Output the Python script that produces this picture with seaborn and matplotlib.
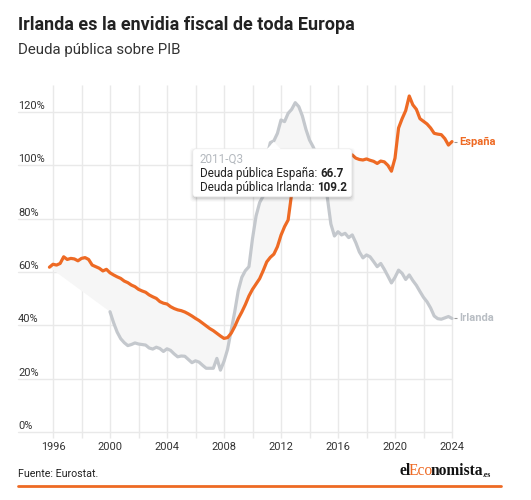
import numpy as np
import pandas as pd
import matplotlib
matplotlib.use("Agg")
import matplotlib.pyplot as plt
import matplotlib.transforms as mtransforms
from matplotlib.patches import FancyBboxPatch, Polygon
from matplotlib.lines import Line2D
from matplotlib.text import Annotation
import seaborn as sns

# ---------------- data (quarterly, % of GDP) ----------------
spain_start = "1995Q4"
spain = [61.8,
         62.9, 62.6, 63.2, 65.7,
         64.7, 65.1, 64.9, 64.2,
         65.1, 65.4, 64.7, 62.6,
         62.0, 61.4, 60.4, 61.0,
         59.7, 58.9, 58.2, 57.6,
         56.6, 56.0, 55.1, 54.5,
         53.5, 52.9, 52.4, 51.4,
         50.7, 50.1, 48.9, 48.3,
         48.0, 47.0, 46.3, 45.8,
         45.5, 45.0, 44.3, 43.5,
         42.6, 41.8, 40.8, 39.8,
         38.8, 38.0, 37.0, 36.0,
         35.1, 35.4, 37.0, 39.5,
         42.5, 45.0, 47.8, 51.0,
         53.5, 55.5, 57.5, 60.5,
         63.8, 65.5, 66.7, 69.5,
         73.8, 77.0, 79.5, 89.5,
         93.0, 94.5, 95.5, 100.0,
         100.8, 102.5, 102.5, 104.8,
         104.5, 104.0, 103.5, 103.3,
         103.5, 103.8, 103.2, 103.6,
         103.9, 102.7, 102.2, 102.0,
         102.4, 101.9, 101.5, 100.7,
         101.6, 101.3, 100.0, 97.8,
         102.7, 114.0, 117.5, 120.5,
         126.0, 122.7, 121.0, 117.5,
         116.5, 115.5, 114.0, 112.0,
         111.7, 111.5, 110.0, 107.6,
         108.9]

ireland_start = "2000Q1"
ireland = [45.1, 41.0, 37.5, 35.0,
           33.5, 32.4, 32.8, 33.4,
           33.0, 32.8, 32.6, 31.5,
           31.1, 31.8, 31.3, 30.2,
           31.2, 30.6, 29.3, 28.2,
           28.5, 28.4, 27.2, 26.0,
           26.7, 26.2, 25.0, 23.9,
           23.9, 23.9, 27.6, 23.2,
           26.5, 31.0, 38.0, 45.0,
           53.0, 58.0, 60.5, 62.0,
           72.5, 81.0, 86.0, 88.5,
           103.0, 108.5, 109.2, 112.0,
           117.0, 116.4, 119.5, 121.0,
           123.5, 122.0, 118.5, 113.5,
           109.5, 107.0, 104.0, 100.0,
           96.0, 88.0, 78.0, 73.5,
           75.1, 73.9, 74.5, 72.9,
           73.9, 71.0, 67.5, 65.3,
           66.4, 65.7, 63.9, 62.0,
           63.2, 61.0, 58.5, 55.9,
           58.0, 60.7, 59.5, 57.2,
           58.9, 56.8, 55.0, 52.7,
           50.5, 48.8, 46.5, 43.5,
           42.5, 42.3, 42.8, 43.3,
           42.6]

series_names = ["España", "Irlanda"]
x_tick_labels = [1996, 2000, 2004, 2008, 2012, 2016, 2020, 2024]
x_grid_years = list(range(1996, 2025, 2))
y_ticks = [0, 20, 40, 60, 80, 100, 120]
tooltip_period = "2011Q3"

title = "Irlanda es la envidia fiscal de toda Europa"
subtitle = "Deuda pública sobre PIB"
source = "Fuente: Eurostat."
logo_parts = ["el", "Eco", "nomista", ".es"]

ORANGE = "#ee6a24"
GREY = "#c4c8cd"
GRID = "#e9e9e9"
FILL = "#f6f6f6"
TXT = "#333333"


def to_year(start, n):
    p = pd.period_range(start=start, periods=n, freq="Q")
    return np.asarray(p.year + (p.quarter - 1) / 4.0, dtype=float)


xs_sp = to_year(spain_start, len(spain))
xs_ir = to_year(ireland_start, len(ireland))
df = pd.concat([
    pd.DataFrame({"year": xs_sp, "value": spain, "pais": series_names[0]}),
    pd.DataFrame({"year": xs_ir, "value": ireland, "pais": series_names[1]}),
], ignore_index=True)

# ---------------- figure ----------------
sns.set_style("white")
plt.rcParams["font.family"] = ["Roboto", "DejaVu Sans"]
plt.rcParams["lines.solid_joinstyle"] = "round"
plt.rcParams["lines.solid_capstyle"] = "round"

W, H = 531, 500
fig = plt.figure(figsize=(W / 100, H / 100), dpi=100)
fig.patch.set_facecolor("white")

# plot area in pixels (from top-left)
L_px, R_px, T_px, B_px = 18, 452, 85, 432
ax = fig.add_axes([L_px / W, 1 - B_px / H, (R_px - L_px) / W, (B_px - T_px) / H])
ppy = (452 - 53) / 28.0          # pixels per year
ppv = (432 - 112) / 120.0        # pixels per percentage point
ax.set_xlim(1996 - (53 - L_px) / ppy, 2024)
ax.set_ylim(0, (B_px - T_px) / ppv)
for s in ax.spines.values():
    s.set_visible(False)
ax.set_xticks([])
ax.set_yticks([])
ax.set_facecolor("none")

# grid
for v in y_ticks:
    ax.axhline(v, color=GRID, lw=1.0, zorder=0)
ax.vlines(x_grid_years, -6 / ppv, ax.get_ylim()[1], color=GRID, lw=1.0,
          zorder=0, clip_on=False)

# fill between the two series
ax.fill(np.concatenate([xs_sp, xs_ir[::-1]]),
        np.concatenate([np.array(spain), np.array(ireland)[::-1]]),
        color=FILL, lw=0, zorder=1)

# lines
sns.lineplot(data=df, x="year", y="value", hue="pais",
             hue_order=[series_names[1], series_names[0]],
             palette={series_names[0]: ORANGE, series_names[1]: GREY},
             linewidth=2.3, legend=False, ax=ax, estimator=None, sort=False,
             zorder=3)
for ln in ax.lines:
    ln.set_clip_on(False)
ax.set_xlabel("")
ax.set_ylabel("")

# y labels (above gridlines)
up3 = mtransforms.offset_copy(ax.transData, fig=fig, x=0, y=3, units="dots")
for v in y_ticks:
    ax.text(ax.get_xlim()[0], v, f"{v}%", transform=up3, ha="left",
            va="baseline", fontsize=7.9, color=TXT)

# x labels
down = mtransforms.offset_copy(ax.transData, fig=fig, x=0, y=-15, units="dots")
for yr in x_tick_labels:
    ax.text(yr, 0, str(yr), transform=down, ha="center", va="center",
            fontsize=7.9, color=TXT)

# series end labels
for name, xs, vals, col in [(series_names[0], xs_sp, spain, ORANGE),
                            (series_names[1], xs_ir, ireland, "#b9bec4")]:
    xe, ye = xs[-1], vals[-1]
    ax.plot([xe + 2 / ppy, xe + 5 / ppy], [ye, ye], color="#999999", lw=0.8,
            clip_on=False, solid_capstyle="butt")
    ax.annotate(name, xy=(xe, ye), xytext=(7, 0), textcoords="offset pixels",
                ha="left", va="center", fontsize=8, fontweight="bold",
                color=col, annotation_clip=False)

# ---------------- tooltip ----------------
p = pd.Period(tooltip_period, freq="Q")
tx = p.year + (p.quarter - 1) / 4.0
i_sp = int(np.argmin(np.abs(xs_sp - tx)))
i_ir = int(np.argmin(np.abs(xs_ir - tx)))
px, py = ax.transData.transform((tx, ireland[i_ir]))
bx0, bx1 = px - 81, px + 78
by1 = py - 8
by0 = py - 56
ident = mtransforms.IdentityTransform()
for k, a in [(4, 0.025), (3, 0.035), (2, 0.05), (1, 0.07)]:
    sh = FancyBboxPatch((bx0 - k + 1, by0 - k - 1), (bx1 - bx0) + 2 * k - 2,
                        (by1 - by0) + 2 * k - 2,
                        boxstyle="round,pad=0,rounding_size=4", transform=ident,
                        fc="black", ec="none", alpha=a, zorder=8)
    fig.add_artist(sh)
box = FancyBboxPatch((bx0, by0), bx1 - bx0, by1 - by0,
                     boxstyle="round,pad=0,rounding_size=3", transform=ident,
                     fc="white", ec="#eeeeee", lw=0.5, zorder=9)
fig.add_artist(box)
tri = Polygon([(px - 7, by1 - 0.5), (px, py - 1), (px + 7, by1 - 0.5)],
              closed=True, transform=ident, fc="white", ec="none", zorder=10)
fig.add_artist(tri)

TT_FS = 8.4
tl = bx0 + 7
fig.text(tl, by1 - 10, f"{p.year}-Q{p.quarter}", transform=ident, ha="left",
         va="center", fontsize=TT_FS, color="#b4b9bf", zorder=11)
lines_tt = [(f"Deuda pública {series_names[0]}: ", f"{spain[i_sp]:.1f}", by1 - 25),
            (f"Deuda pública {series_names[1]}: ", f"{ireland[i_ir]:.1f}", by1 - 39)]
for lab, val, yy in lines_tt:
    t1 = fig.text(tl, yy, lab, transform=ident, ha="left", va="center",
                  fontsize=TT_FS, color="#222222", zorder=11)
    an = Annotation(val, xy=(1, 0), xycoords=t1, ha="left", va="bottom",
                    fontsize=TT_FS, fontweight="bold", color="#222222",
                    annotation_clip=False)
    an.set_zorder(11)
    fig.add_artist(an)

# ---------------- titles and footer ----------------
fig.text(L_px / W, 1 - 25 / H, title, ha="left", va="center", fontsize=13,
         fontweight="bold", color="#222222")
fig.text(L_px / W, 1 - 50 / H, subtitle, ha="left", va="center", fontsize=10.8,
         color="#333333")
fig.text(L_px / W, 1 - 474 / H, source, ha="left", va="center", fontsize=7.7,
         color="#222222")

fig.add_artist(Line2D([L_px / W, 501 / W], [1 - 486 / H, 1 - 486 / H],
                      color=ORANGE, lw=2.0, transform=fig.transFigure))

# logo
serif = ["Liberation Serif", "DejaVu Serif"]
prev = fig.text(400 / W, 1 - 475 / H, logo_parts[0], ha="left", va="baseline",
                fontsize=11.2, fontweight="bold", color="#111111", family=serif)
for part, col, fs, fw, dx in [(logo_parts[1], ORANGE, 11.2, "normal", -2.5),
                              (logo_parts[2], "#111111", 11.2, "bold", -2),
                              (logo_parts[3], "#111111", 5.5, "bold", -1)]:
    an = Annotation(part, xy=(1, 0), xycoords=prev, xytext=(dx, 0),
                    textcoords="offset pixels", ha="left", va="bottom",
                    fontsize=fs, fontweight=fw, color=col, family=serif,
                    annotation_clip=False)
    fig.add_artist(an)
    prev = an

fig.savefig("out.png", dpi=100, facecolor="white")
